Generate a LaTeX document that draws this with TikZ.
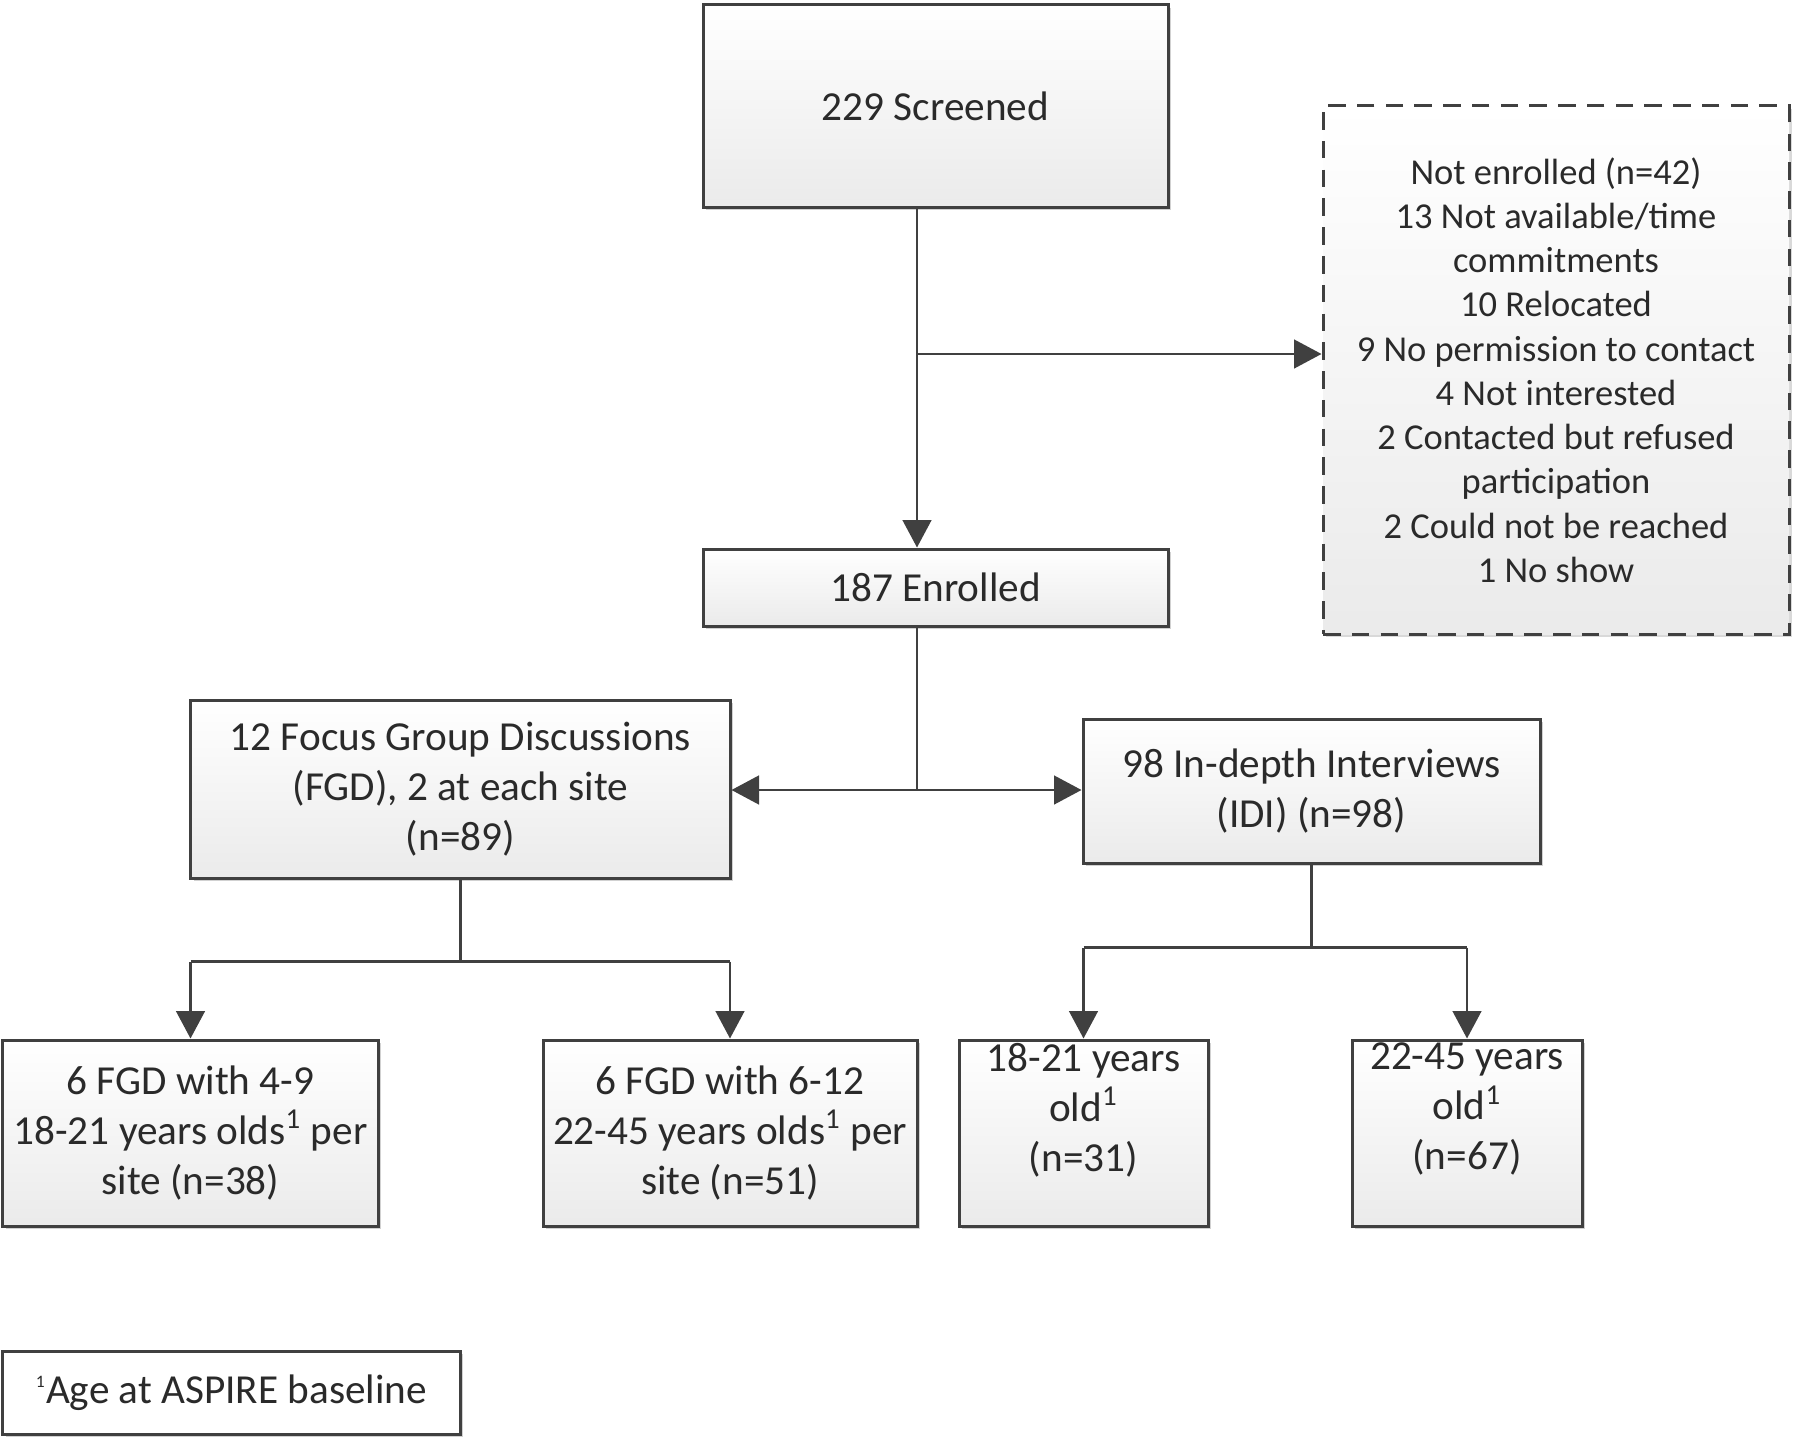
\documentclass[tikz,border=0pt]{standalone}
\usepackage{fontspec}
\setmainfont{Carlito}
\usetikzlibrary{arrows.meta,shadows,calc}
\definecolor{ink}{HTML}{2A2A2A}
\definecolor{edge}{HTML}{404040}
\tikzset{
  box/.style={draw=edge, line width=1.2pt, top color=white, bottom color=black!8,
    drop shadow={shadow xshift=1.3pt, shadow yshift=-1.3pt, fill=black, opacity=0.18},
    inner sep=0pt, align=center, text=ink, font=\fontsize{16.5}{20}\selectfont},
  dbox/.style={draw=edge, line width=1.2pt, dash pattern=on 7pt off 4.5pt,
    top color=white, bottom color=black!8,
    drop shadow={shadow xshift=1.3pt, shadow yshift=-1.3pt, fill=black, opacity=0.15},
    inner sep=0pt, align=center, text=ink, font=\fontsize{14.6}{17.7}\selectfont},
  txt/.style={inner sep=0pt, align=center, text=ink, font=\fontsize{16.5}{20}\selectfont},
  conn/.style={draw=edge, line width=0.95pt},
  arr/.style={conn, -{Triangle[length=11pt,width=11.5pt]}},
}
\begin{document}
\begin{tikzpicture}[x=0.4pt,y=-0.4pt]
\useasboundingbox (0,0) rectangle (1800,1439);
% nodes
\node[box, minimum width=186pt, minimum height=80.8pt] (screen) at (935.5,106) {229 Screened};
\node[dbox, minimum width=186.4pt, minimum height=211.2pt] (notenr) at (1556,370)
  {Not enrolled (n=42)\\13 Not available/time\\commitments\\10 Relocated\\9 No permission to contact\\4 Not interested\\2 Contacted but refused\\participation\\2 Could not be reached\\1 No show};
\node[box, minimum width=186pt, minimum height=30.8pt] (enr) at (935.5,587.5) {187 Enrolled};
\node[box, minimum width=215.6pt, minimum height=71.2pt] (fgd) at (460.5,789)
  {12 Focus Group Discussions\\(FGD), 2 at each site\\(n=89)};
\node[box, minimum width=182.8pt, minimum height=57.6pt] (idi) at (1311.5,791)
  {98 In-depth Interviews\\(IDI) (n=98)};
\node[box, minimum width=150pt, minimum height=74.4pt] (b1) at (190.5,1133)
  {6 FGD with 4-9\\18-21 years olds\textsuperscript{1} per\\site (n=38)};
\node[box, minimum width=149.6pt, minimum height=74.4pt] (b2) at (730,1133)
  {6 FGD with 6-12\\22-45 years olds\textsuperscript{1} per\\site (n=51)};
\node[box, minimum width=99.6pt, minimum height=74.4pt] (b3) at (1083.5,1133) {};
\node[txt, anchor=north] (b3t) at ($(b3.north)+(0,4)$) {18-21 years\\old\textsuperscript{1}\\(n=31)};
\node[box, minimum width=92pt, minimum height=74.4pt] (b4) at (1467,1133) {};
\node[txt, anchor=north] (b4t) at ($(b4.north)+(0,4)$) {22-45 years\\old\textsuperscript{1}\\(n=67)};
\node[box, top color=white, bottom color=white, minimum width=182.8pt, minimum height=33.2pt] (foot) at (231.5,1392.5)
  {\textsuperscript{\scriptsize 1}Age at ASPIRE baseline};
% connectors
\coordinate (spine) at (917,0);
\coordinate (j1) at (917,354);
\coordinate (j2) at (917,790);
\draw[arr] (screen.south -| spine) -- (enr.north -| spine);
\draw[arr] (j1) -- (j1 -| notenr.west);
\draw[conn] (enr.south -| spine) -- (j2);
\draw[arr] (j2) -- (j2 -| fgd.east);
\draw[arr] (j2) -- (j2 -| idi.west);
\coordinate (j3) at ($(fgd.south)+(0,82)$);
\draw[conn] (fgd.south) -- (j3);
\draw[conn] (j3 -| b1) -- (j3 -| b2);
\draw[arr] (j3 -| b1) -- (b1.north);
\draw[arr] (j3 -| b2) -- (b2.north);
\coordinate (j4) at ($(idi.south)+(0,83)$);
\draw[conn] (idi.south) -- (j4);
\draw[conn] (j4 -| b3) -- (j4 -| b4);
\draw[arr] (j4 -| b3) -- (b3.north);
\draw[arr] (j4 -| b4) -- (b4.north);
\end{tikzpicture}
\end{document}
